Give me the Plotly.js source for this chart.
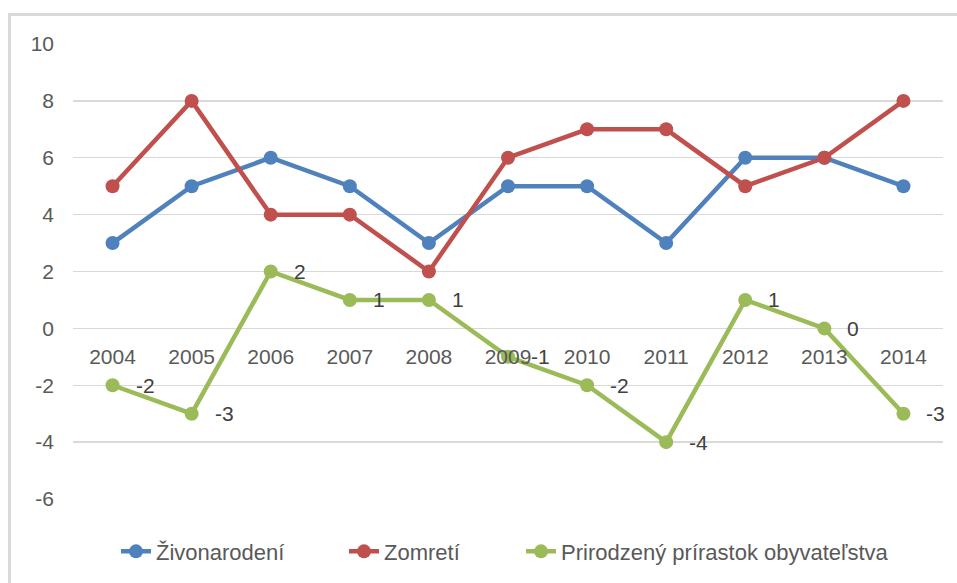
<!DOCTYPE html>
<html>
<head>
<meta charset="utf-8">
<script src="https://cdn.plot.ly/plotly-3.0.1.min.js"></script>
<style>
  html, body { margin: 0; padding: 0; overflow: hidden; background: #fff; }
  #chart { width: 957px; height: 583px; position: absolute; left: 0; top: 0; }
  #frame { position: absolute; left: 8px; top: 13px; width: 2000px; height: 2000px;
           border: 3px solid #d9d9d9; pointer-events: none; box-sizing: border-box; }
</style>
</head>
<body>
<div id="chart"></div>
<div id="frame"></div>
<script>
const years = ['2004','2005','2006','2007','2008','2009','2010','2011','2012','2013','2014'];
const zivonarodeni = [3, 5, 6, 5, 3, 5, 5, 3, 6, 6, 5];
const zomreti = [5, 8, 4, 4, 2, 6, 7, 7, 5, 6, 8];
const prirastok = [-2, -3, 2, 1, 1, -1, -2, -4, 1, 0, -3];
const seriesNames = ['Živonarodení', 'Zomretí', 'Prirodzený prírastok obyvateľstva'];
const yTicks = [-6, -4, -2, 0, 2, 4, 6, 8, 10];

const FONT = 'Liberation Sans, Arial, sans-serif';
const colors = ['#4f81bd', '#c0504d', '#9bbb59'];
const legendIds = ['legend', 'legend2', 'legend3'];
const legendX = [0.0494, 0.3115, 0.515];

function mk(y, i) {
  return {
    x: years, y: y, name: seriesNames[i], type: 'scatter', mode: 'lines+markers',
    legend: legendIds[i],
    line: { color: colors[i], width: 4.5 },
    marker: { color: colors[i], size: 14 },
    hoverinfo: 'x+y+name'
  };
}
const data = [mk(zivonarodeni, 0), mk(zomreti, 1), mk(prirastok, 2)];

const annotations = years.map((yr, i) => ({
  x: i, y: prirastok[i], xref: 'x', yref: 'y', text: String(prirastok[i]),
  showarrow: false, xanchor: 'left', yanchor: 'middle', xshift: 21,
  font: { family: FONT, size: 21, color: '#404040' }
}));

const layout = {
  width: 957, height: 583,
  margin: { l: 73, r: 14, t: 44, b: 83, pad: 0 },
  paper_bgcolor: 'rgba(0,0,0,0)', plot_bgcolor: 'rgba(0,0,0,0)',
  font: { family: FONT, size: 21, color: '#595959' },
  showlegend: true,
  xaxis: {
    type: 'category', range: [-0.5, 10.5],
    anchor: 'free', position: 6 / 16,
    showgrid: false, showline: false, zeroline: false, ticks: '',
    ticklabelstandoff: 14,
    tickfont: { family: FONT, size: 21, color: '#595959' }
  },
  yaxis: {
    range: [-6, 10], tickvals: yTicks, ticktext: yTicks.map(String),
    showgrid: true, gridcolor: '#d9d9d9', gridwidth: 1.3,
    zeroline: true, zerolinecolor: '#d9d9d9', zerolinewidth: 1.3,
    showline: false, ticks: '', ticklabelstandoff: 18,
    tickfont: { family: FONT, size: 21, color: '#595959' }
  },
  annotations: annotations
};
legendIds.forEach((id, i) => {
  layout[id] = {
    orientation: 'h', x: legendX[i], xanchor: 'left', y: -0.113, yanchor: 'middle',
    font: { family: FONT, size: 22, color: '#595959' },
    bgcolor: 'rgba(0,0,0,0)'
  };
});

Plotly.newPlot('chart', data, layout, { displayModeBar: false, staticPlot: true });
</script>
</body>
</html>
